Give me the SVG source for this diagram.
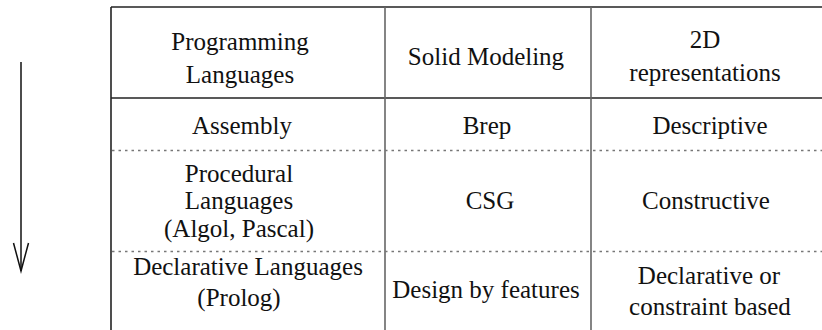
<svg xmlns="http://www.w3.org/2000/svg" width="822" height="330" viewBox="0 0 822 330">
  <style>
    .lbl { font-family: "Liberation Serif", "Times New Roman", serif; font-size: 25px; fill: #111; text-anchor: middle; }
    .rule { stroke: #222; stroke-width: 1.6; fill: none; }
    .col { stroke: #666; stroke-width: 1.6; fill: none; }
    .dot { stroke: #777; stroke-width: 1.4; stroke-dasharray: 2.5 4; fill: none; }
    .arrow { stroke: #111; stroke-width: 1.5; fill: none; }
  </style>
  <rect width="822" height="330" fill="#fff"/>

  <!-- table grid -->
  <g id="grid">
    <line class="rule" x1="111" y1="7" x2="822" y2="7"/>
    <line class="rule" x1="111" y1="98" x2="822" y2="98"/>
    <line class="rule" x1="111" y1="7" x2="111" y2="330"/>
    <line class="col" x1="385" y1="7" x2="385" y2="330"/>
    <line class="col" x1="591" y1="7" x2="591" y2="330"/>
    <line class="dot" x1="112" y1="150.5" x2="822" y2="150.5"/>
    <line class="dot" x1="112" y1="251.5" x2="822" y2="251.5"/>
  </g>

  <!-- downward direction arrow -->
  <g id="connectors">
    <line class="arrow" x1="21" y1="62" x2="21" y2="271"/>
    <polyline class="arrow" points="13.5,243 21,271 28.5,243"/>
  </g>

  <g class="lbl">
    <!-- header row -->
    <g id="head-prog">
      <text x="240" y="50">Programming</text>
      <text x="240" y="83">Languages</text>
    </g>
    <g id="head-solid">
      <text x="486" y="65">Solid Modeling</text>
    </g>
    <g id="head-2d">
      <text x="705" y="48">2D</text>
      <text x="705" y="81">representations</text>
    </g>

    <!-- row 1 -->
    <g id="r1-prog"><text x="242" y="134">Assembly</text></g>
    <g id="r1-solid"><text x="487" y="134">Brep</text></g>
    <g id="r1-2d"><text x="710" y="134">Descriptive</text></g>

    <!-- row 2 -->
    <g id="r2-prog">
      <text x="239" y="182">Procedural</text>
      <text x="239" y="209">Languages</text>
      <text x="239" y="237">(Algol, Pascal)</text>
    </g>
    <g id="r2-solid"><text x="490" y="209">CSG</text></g>
    <g id="r2-2d"><text x="706" y="209">Constructive</text></g>

    <!-- row 3 -->
    <g id="r3-prog">
      <text x="248" y="275">Declarative Languages</text>
      <text x="239" y="306">(Prolog)</text>
    </g>
    <g id="r3-solid"><text x="486" y="298">Design by features</text></g>
    <g id="r3-2d">
      <text x="709" y="284">Declarative or</text>
      <text x="710" y="315">constraint based</text>
    </g>
  </g>
</svg>
